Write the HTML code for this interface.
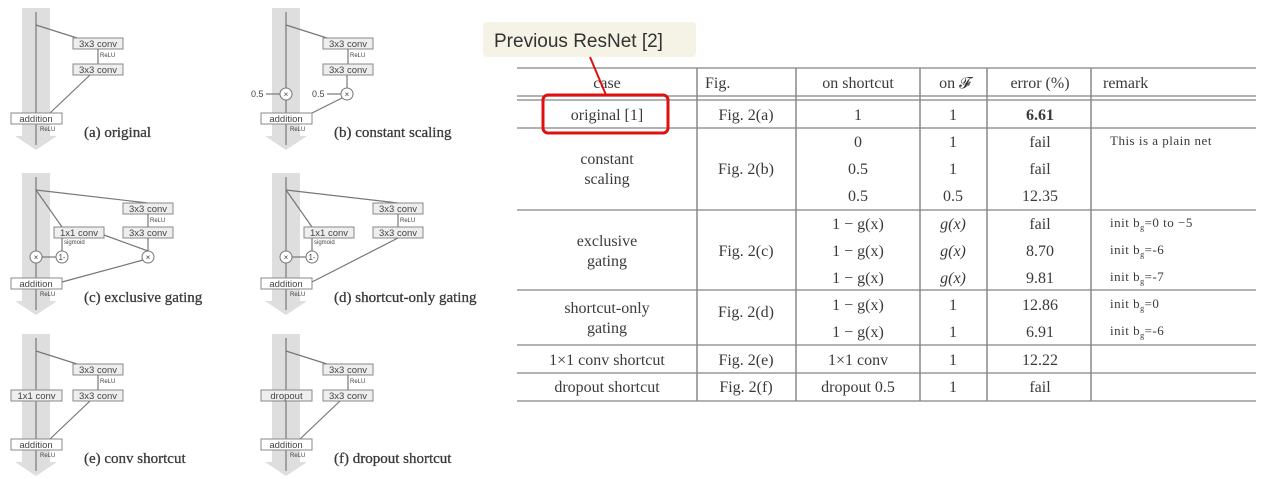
<!DOCTYPE html>
<html><head><meta charset="utf-8"><style>
html,body{margin:0;padding:0;background:#fff;}
svg{display:block;}
.s{font-family:"Liberation Serif",serif;fill:#3a3a3a;}
.d{font-family:"Liberation Sans",sans-serif;fill:#444;}
</style></head><body>
<svg id="root" width="1267" height="479" viewBox="0 0 1267 479" xmlns="http://www.w3.org/2000/svg">
<g id="diagrams"></g>
<g id="table"></g>
<g>
  <rect x="483" y="22" width="213" height="35" rx="4" fill="#f4f3e6"/>
  <text x="494" y="47" font-family="Liberation Sans,sans-serif" font-size="19" fill="#333">Previous ResNet [2]</text>
  <line x1="590" y1="57" x2="606" y2="95" stroke="#e01010" stroke-width="2"/>
  <rect x="543" y="95" width="125" height="38" rx="5" fill="none" stroke="#e01010" stroke-width="3"/>
</g>
</svg>
<script>
const NS="http://www.w3.org/2000/svg";
function mk(parent,tag,attrs,txt){const e=document.createElementNS(NS,tag);for(const k in attrs)e.setAttribute(k,attrs[k]);if(txt!==undefined)e.textContent=txt;parent.appendChild(e);return e;}
const D=document.getElementById('diagrams');
function band(g,x,y0,y1){
  mk(g,'path',{d:`M${x-14} ${y0} L${x+14} ${y0} L${x+14} ${y1-14} L${x+21} ${y1-14} L${x} ${y1} L${x-21} ${y1-14} L${x-14} ${y1-14} Z`,fill:'#dedede'});
}
function box(g,x,y,w,label){
  mk(g,'rect',{x:x,y:y,width:w,height:11,fill:'#eee',stroke:'#888','stroke-width':1});
  mk(g,'text',{x:x+w/2,y:y+9,'text-anchor':'middle','font-size':9.5,class:'d'},label);
}
function ln(g,x1,y1,x2,y2){mk(g,'line',{x1,y1,x2,y2,stroke:'#777','stroke-width':1.2});}
function circ(g,x,y,t){mk(g,'circle',{cx:x,cy:y,r:6,fill:'#fff',stroke:'#777'});mk(g,'text',{x:x,y:y+3,'text-anchor':'middle','font-size':8,class:'d'},t||'×');}
function small(g,x,y,t){mk(g,'text',{x:x,y:y,'font-size':6,class:'d'},t);}
function caption(g,x,y,t){mk(g,'text',{x:x,y:y,'font-size':15,class:'s','stroke':'#3a3a3a','stroke-width':0.3},t);}
function panel(ox,oy,kind,cap){
  const g=mk(D,'g',{});
  
  
  const tx=ox+36;
  band(g,tx,oy+8,oy+150);
  ln(g,tx,oy+12,tx,oy+145);
  if(kind==='exclusive'||kind==='shortcut-only'){
    ln(g,tx,oy+25,ox+148,oy+38);
    box(g,ox+123,oy+38,50,'3x3 conv');small(g,ox+150,oy+57,'ReLU');ln(g,ox+148,oy+49,ox+148,oy+62);
    box(g,ox+123,oy+62,50,'3x3 conv');
    ln(g,tx,oy+25,ox+62,oy+62);
    box(g,ox+54,oy+62,50,'1x1 conv');small(g,ox+64,oy+79,'sigmoid');
    ln(g,ox+62,oy+73,ox+62,oy+86);
    circ(g,tx,oy+92);circ(g,ox+62,oy+92,'1-');ln(g,ox+56,oy+92,tx+6,oy+92);
    if(kind==='exclusive'){ln(g,ox+104,oy+70,ox+148,oy+86);ln(g,ox+148,oy+73,ox+148,oy+86);circ(g,ox+148,oy+92);ln(g,ox+143,oy+95,ox+62,oy+117);}
    else{ln(g,ox+148,oy+73,ox+62,oy+117);}
    mk(g,'rect',{x:ox+11,y:oy+113,width:51,height:11,fill:'#fff',stroke:'#888'});
    mk(g,'text',{x:ox+36,y:oy+122,'text-anchor':'middle','font-size':9.5,class:'d'},'addition');
    small(g,ox+40,oy+131,'ReLU');
  } else {
    ln(g,tx,oy+25,ox+77,oy+38);
    box(g,ox+73,oy+38,50,'3x3 conv');small(g,ox+100,oy+57,'ReLU');ln(g,ox+98,oy+49,ox+98,oy+64);
    box(g,ox+73,oy+64,50,'3x3 conv');
    if(kind==='constant'){
      circ(g,tx,oy+94);circ(g,ox+97,oy+94);ln(g,ox+97,oy+75,ox+97,oy+88);
      mk(g,'text',{x:ox+1,y:oy+97,'font-size':9,class:'d'},'0.5');ln(g,ox+16,oy+94,tx-6,oy+94);
      mk(g,'text',{x:ox+62,y:oy+97,'font-size':9,class:'d'},'0.5');ln(g,ox+77,oy+94,ox+91,oy+94);
      ln(g,ox+92,oy+98,ox+62,oy+113);
    } else ln(g,ox+90,oy+75,ox+50,oy+113);
    if(kind==='conv')box(g,ox+11,oy+64,51,'1x1 conv');
    if(kind==='dropout')box(g,ox+11,oy+64,51,'dropout');
    mk(g,'rect',{x:ox+11,y:oy+113,width:51,height:11,fill:'#fff',stroke:'#888'});
    mk(g,'text',{x:ox+36,y:oy+122,'text-anchor':'middle','font-size':9.5,class:'d'},'addition');
    small(g,ox+40,oy+131,'ReLU');
  }
  caption(g,ox+84,oy+137,cap);
}
panel(0,0,'original','(a) original');
panel(250,0,'constant','(b) constant scaling');
panel(0,165,'exclusive','(c) exclusive gating');
panel(250,165,'shortcut-only','(d) shortcut-only gating');
panel(0,326,'conv','(e) conv shortcut');
panel(250,326,'dropout','(f) dropout shortcut');

const T=document.getElementById('table');
const L=517,R=1256;
const cols=[517,697,796,920,987,1091,1256];
const hlines=[[68,true],[96,true],[128,false],[210,true],[290,false],[345,true],[373,true],[401,false]];
for(const [y,dbl] of hlines){mk(T,'line',{x1:L,y1:y,x2:R,y2:y,stroke:'#999','stroke-width':1.5});if(y===96)mk(T,'line',{x1:L,y1:100,x2:R,y2:100,stroke:'#999','stroke-width':1.5});}
for(let i=1;i<cols.length-1;i++)mk(T,'line',{x1:cols[i],y1:68,x2:cols[i],y2:401,stroke:'#888','stroke-width':1.5});
function cell(x,y,t,o){const e=mk(T,'text',Object.assign({x:x,y:y,'font-size':16,class:'s','text-anchor':'middle'},o||{}),t);return e;}
cell(607,88,'case');cell(705,88,'Fig.',{'text-anchor':'start'});cell(858,88,'on shortcut');cell(955,88,'on 𝓕');cell(1040,88,'error (%)');cell(1103,88,'remark',{'text-anchor':'start'});
const rows=[
 [120,'original [1]','Fig. 2(a)','1','1','6.61',''],
 [147,'','','0','1','fail','This is a plain net'],
 [174,'','Fig. 2(b)','0.5','1','fail',''],
 [201,'','','0.5','0.5','12.35',''],
 [229,'','','1 − g(x)','g(x)','fail','init b_g=0 to −5'],
 [256,'','Fig. 2(c)','1 − g(x)','g(x)','8.70','init b_g=-6'],
 [283,'','','1 − g(x)','g(x)','9.81','init b_g=-7'],
 [310,'','Fig. 2(d)','1 − g(x)','1','12.86','init b_g=0'],
 [337,'','','1 − g(x)','1','6.91','init b_g=-6'],
 [365,'1×1 conv shortcut','Fig. 2(e)','1×1 conv','1','12.22',''],
 [392,'dropout shortcut','Fig. 2(f)','dropout 0.5','1','fail','']];
for(const r of rows){
  if(r[1])cell(607,r[0],r[1]);
  if(r[2])cell(746,r[0]+(r[2]==='Fig. 2(d)'?7:0),r[2]);
  cell(858,r[0],r[3]);
  cell(953,r[0],r[4],r[4]==='g(x)'?{'font-style':'italic'}:{});
  cell(1040,r[0],r[5],r[5]==='6.61'?{'font-weight':'bold'}:{});
  if(r[6]){const e=cell(1110,r[0]-2,'',{'text-anchor':'start','font-size':13,'letter-spacing':'0.5'});
    if(r[6].includes('b_g')){const p=r[6].split('b_g');e.appendChild(document.createTextNode(p[0]+'b'));const s=document.createElementNS(NS,'tspan');s.setAttribute('font-size','8');s.setAttribute('dy','3');s.textContent='g';e.appendChild(s);const s2=document.createElementNS(NS,'tspan');s2.setAttribute('dy','-3');s2.textContent=p[1];e.appendChild(s2);}
    else e.textContent=r[6];}
}
cell(607,164,'constant');cell(607,184,'scaling');
cell(607,246,'exclusive');cell(607,266,'gating');
cell(607,313,'shortcut-only');cell(607,333,'gating');
</script>
</body></html>
